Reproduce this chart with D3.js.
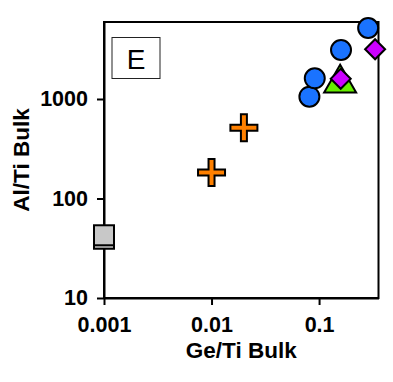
<!DOCTYPE html>
<html>
<head>
<meta charset="utf-8">
<script src="https://cdn.jsdelivr.net/npm/d3@7"></script>
<style>
  html, body { margin: 0; padding: 0; background: #fff; }
  svg { display: block; }
  text { font-family: "Liberation Sans", Arial, sans-serif; }
</style>
</head>
<body>
<div id="chart"></div>
<script>
// ---- data ----
const squareX = [0.001, 0.001];
const squareY = [39.4, 42.7];
const crossX = [0.01, 0.0200];
const crossY = [183, 515];
const triangleX = [0.157];
const triangleY = [1440];
const circleX = [0.0813, 0.0912, 0.160, 0.286];
const circleY = [1054, 1614, 3108, 5171];
const diamondX = [0.159, 0.332];
const diamondY = [1595, 3159];

const xTicks = [0.001, 0.01, 0.1];
const xTickLabels = ["0.001", "0.01", "0.1"];
const yTicks = [10, 100, 1000];
const yTickLabels = ["10", "100", "1000"];
const xTitle = "Ge/Ti Bulk";
const yTitle = "Al/Ti Bulk";
const panelLabel = "E";

// ---- layout ----
const W = 393, H = 382;
const mLeft = 104, mRight = 378.5, mTop = 22, mBottom = 298;

const svg = d3.select("#chart").append("svg").attr("width", W).attr("height", H);

const x = d3.scaleLog().domain([0.001, 0.357]).range([mLeft, mRight]);
const y = d3.scaleLog().domain([10, 5940]).range([mBottom, mTop]);

// frame
svg.append("rect")
  .attr("x", mLeft).attr("y", mTop)
  .attr("width", mRight - mLeft).attr("height", mBottom - mTop)
  .attr("fill", "none").attr("stroke", "#000").attr("stroke-width", 2);

// axes
const xAxis = d3.axisBottom(x).tickValues(xTicks)
  .tickFormat((d, i) => xTickLabels[i]).tickSize(7).tickSizeOuter(0).tickPadding(12);
const yAxis = d3.axisLeft(y).tickValues(yTicks)
  .tickFormat((d, i) => yTickLabels[i]).tickSize(7).tickSizeOuter(0).tickPadding(9);

const gx = svg.append("g").attr("transform", `translate(0,${mBottom})`).call(xAxis);
const gy = svg.append("g").attr("transform", `translate(${mLeft},0)`).call(yAxis);
[gx, gy].forEach(g => {
  g.select(".domain").attr("stroke", "#000").attr("stroke-width", 2);
  g.selectAll(".tick line").attr("stroke", "#000").attr("stroke-width", 2);
  g.selectAll(".tick text").attr("fill", "#000")
    .style("font-family", "'Liberation Sans', Arial, sans-serif")
    .style("font-size", "21.5px").style("font-weight", "bold");
});

// titles
svg.append("text")
  .attr("x", (mLeft + mRight) / 2).attr("y", 358)
  .attr("text-anchor", "middle")
  .style("font-size", "22.5px").style("font-weight", "bold")
  .text(xTitle);
svg.append("text")
  .attr("transform", `translate(29,${(mTop + mBottom) / 2}) rotate(-90)`)
  .attr("text-anchor", "middle")
  .style("font-size", "22.5px").style("font-weight", "bold")
  .text(yTitle);

// panel label box
svg.append("rect")
  .attr("x", 112).attr("y", 37.5).attr("width", 48).attr("height", 41)
  .attr("fill", "#fff").attr("stroke", "#222").attr("stroke-width", 1);
svg.append("text")
  .attr("x", 136).attr("y", 69)
  .attr("text-anchor", "middle")
  .style("font-size", "28px")
  .text(panelLabel);

// markers
const sw = 2;
const sq = 20;
svg.append("g").selectAll("rect")
  .data(d3.zip(squareX, squareY).sort((a, b) => a[1] - b[1]))
  .join("rect")
  .attr("x", d => x(d[0]) - sq / 2).attr("y", d => y(d[1]) - sq / 2)
  .attr("width", sq).attr("height", sq)
  .attr("fill", "#c8c8c8").attr("stroke", "#000").attr("stroke-width", sw);

const arm = 13.5, half = 3;
const crossPath = `M${-half},${-arm}H${half}V${-half}H${arm}V${half}H${half}V${arm}H${-half}V${half}H${-arm}V${-half}H${-half}Z`;
svg.append("g").selectAll("path")
  .data(d3.zip(crossX, crossY))
  .join("path")
  .attr("d", crossPath)
  .attr("transform", d => `translate(${x(d[0])},${y(d[1])})`)
  .attr("fill", "#ff8000").attr("stroke", "#000").attr("stroke-width", sw);

const side = 32;
const th = side * Math.sqrt(3) / 2;
const triPath = `M0,${-th * 2 / 3}L${side / 2},${th / 3}L${-side / 2},${th / 3}Z`;
svg.append("g").selectAll("path")
  .data(d3.zip(triangleX, triangleY))
  .join("path")
  .attr("d", triPath)
  .attr("transform", d => `translate(${x(d[0])},${y(d[1])})`)
  .attr("fill", "#66ee00").attr("stroke", "#000").attr("stroke-width", sw);

svg.append("g").selectAll("circle")
  .data(d3.zip(circleX, circleY))
  .join("circle")
  .attr("cx", d => x(d[0])).attr("cy", d => y(d[1])).attr("r", 10)
  .attr("fill", "#1a73ff").attr("stroke", "#000").attr("stroke-width", sw);

const dm = 10;
const diaPath = `M0,${-dm}L${dm},0L0,${dm}L${-dm},0Z`;
svg.append("g").selectAll("path")
  .data(d3.zip(diamondX, diamondY))
  .join("path")
  .attr("d", diaPath)
  .attr("transform", d => `translate(${x(d[0])},${y(d[1])})`)
  .attr("fill", "#cc00ff").attr("stroke", "#000").attr("stroke-width", sw);
</script>
</body>
</html>
